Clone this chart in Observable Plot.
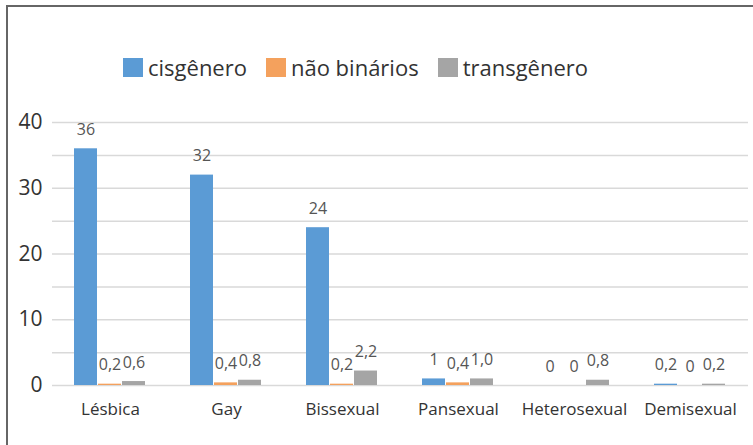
<!DOCTYPE html>
<html>
<head>
<meta charset="utf-8">
<script src="https://cdn.jsdelivr.net/npm/d3@7"></script>
<script src="https://cdn.jsdelivr.net/npm/@observablehq/plot@0.6"></script>
<style>
  body { margin: 0; background: #fff; font-family: "Open Sans", sans-serif; }
  #frame { position: absolute; left: 6px; top: 5px; width: 747px; height: 440px;
           border-top: 2px solid #666; border-left: 2px solid #666; box-sizing: border-box; }
  #legend { position: absolute; left: 123px; top: 57px; display: flex; align-items: center;
            font-size: 22px; color: #333; height: 20px; white-space: nowrap; }
  .item { display: flex; align-items: center; margin-right: 19px; }
  .sw { width: 20px; height: 19px; margin-right: 5px; }
  #chart { position: absolute; left: 0; top: 100px; }
</style>
</head>
<body>
<div id="frame"></div>
<div id="legend"></div>
<div id="chart"></div>
<script>
const categories = ["Lésbica", "Gay", "Bissexual", "Pansexual", "Heterosexual", "Demisexual"];
const series = ["cisgênero", "não binários", "transgênero"];
const cisgenero   = [36, 32, 24, 1, 0, 0.2];
const naoBinarios = [0.2, 0.4, 0.2, 0.4, 0, 0];
const transgenero = [0.6, 0.8, 2.2, 1.0, 0.8, 0.2];
const colors = ["#5B9BD5", "#F4A15D", "#A5A5A5"];
const yTicks = [0, 10, 20, 30, 40];
const gridTicks = [0, 5, 10, 15, 20, 25, 30, 35, 40];

const seriesValues = [cisgenero, naoBinarios, transgenero];
const data = categories.flatMap((c, i) =>
  series.map((s, j) => ({category: c, series: s, value: seriesValues[j][i]})));

const fmt = d => d.series === "transgênero"
  ? d.value.toFixed(1).replace(".", ",")
  : String(d.value).replace(".", ",");

// legend
const legend = document.getElementById("legend");
series.forEach((s, j) => {
  const it = document.createElement("div");
  it.className = "item";
  const sw = document.createElement("div");
  sw.className = "sw";
  sw.style.background = colors[j];
  const t = document.createElement("span");
  t.textContent = s;
  it.appendChild(sw); it.appendChild(t);
  legend.appendChild(it);
});

const chart = Plot.plot({
  width: 753,
  height: 320,
  marginLeft: 52,
  marginRight: 5,
  marginTop: 22,
  marginBottom: 35,
  style: {fontFamily: "Open Sans, sans-serif", color: "#333", background: "transparent"},
  fx: {domain: categories, padding: 0, label: null},
  x: {domain: series, paddingInner: 0.04, paddingOuter: 0.85, axis: null},
  y: {domain: [0, 40], axis: null},
  color: {domain: series, range: colors},
  marks: [
    Plot.ruleY(gridTicks, {stroke: "#d9d9d9", strokeWidth: 1.5}),
    Plot.barY(data, {fx: "category", x: "series", y: "value", fill: "series"}),
    Plot.text(data, {fx: "category", x: "series", y: "value", text: fmt, dy: -19,
                     fontSize: 16, fontWeight: 500, fill: "#555"}),
    Plot.axisY(yTicks, {tickSize: 0, tickPadding: 10, fontSize: 21, label: null, fill: "#333"}),
    Plot.axisFx({anchor: "bottom", tickSize: 0, tickPadding: 17, fontSize: 17, label: null, fill: "#333"})
  ]
});
document.getElementById("chart").appendChild(chart);
</script>
</body>
</html>
